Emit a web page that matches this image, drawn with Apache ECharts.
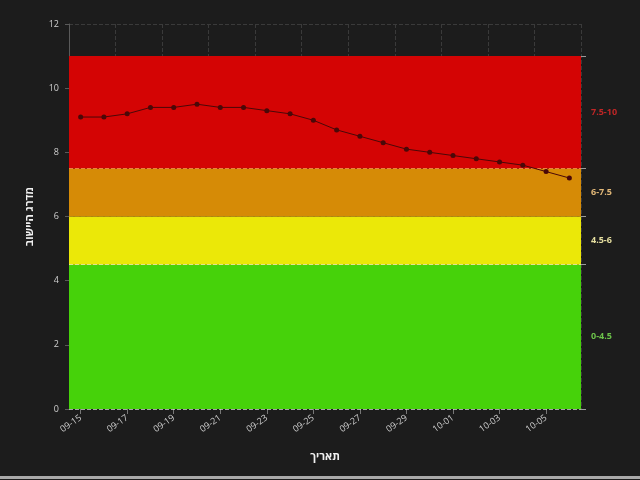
<!DOCTYPE html>
<html>
<head>
<meta charset="utf-8">
<script src="https://cdn.jsdelivr.net/npm/echarts@6/dist/echarts.min.js"></script>
<style>
  html, body { margin: 0; padding: 0; background: #1c1c1c; }
  #chart { width: 640px; height: 480px; }
  .bottom-bar {
    position: absolute;
    left: 0;
    top: 476px;
    width: 640px;
    height: 3px;
    background: #a9a9a9;
  }
</style>
</head>
<body>
<div id="chart"></div>
<div class="bottom-bar"></div>
<script>
// תאריכים (ציר X)
const dates = [
  '09-15', '09-16', '09-17', '09-18', '09-19', '09-20', '09-21', '09-22',
  '09-23', '09-24', '09-25', '09-26', '09-27', '09-28', '09-29', '09-30',
  '10-01', '10-02', '10-03', '10-04', '10-05', '10-06'
];

// מדרג היישוב לפי יום
const scores = [
  9.1, 9.1, 9.2, 9.4, 9.4, 9.5, 9.4, 9.4, 9.3, 9.2, 9.0,
  8.7, 8.5, 8.3, 8.1, 8.0, 7.9, 7.8, 7.7, 7.6, 7.4, 7.2
];

// רצועות צבע
const bandLabels = ['0-4.5', '4.5-6', '6-7.5', '7.5-10'];
const bandFrom = [0, 4.5, 6, 7.5];
const bandTo = [4.5, 6, 7.5, 11];
const bandColors = ['#46d20a', '#ebe808', '#d68b06', '#d40404'];
const bandTextColors = ['#6cc24a', '#e6dfa0', '#e2b878', '#c02626'];

const fontFamily = '"Open Sans", "Liberation Sans", "DejaVu Sans", sans-serif';

const chart = echarts.init(document.getElementById('chart'));

const markAreaData = bandLabels.map((name, i) => [
  {
    yAxis: bandFrom[i],
    itemStyle: { color: bandColors[i], opacity: 1 },
    label: {
      show: true,
      position: 'right',
      distance: 10,
      formatter: name,
      color: bandTextColors[i],
      fontSize: 9,
      fontWeight: 'bold',
      fontFamily: fontFamily
    }
  },
  { yAxis: bandTo[i] }
]);

const option = {
  backgroundColor: '#1c1c1c',
  animation: false,
  textStyle: { fontFamily: fontFamily },
  grid: {
    left: 69,
    right: 59,
    top: 24,
    bottom: 71
  },
  xAxis: {
    type: 'category',
    data: dates,
    boundaryGap: true,
    name: 'תאריך',
    nameLocation: 'middle',
    nameGap: 42,
    nameTextStyle: { color: '#f0f0f0', fontSize: 11, fontWeight: 'bold' },
    axisLine: { show: false },
    axisTick: { show: true, interval: 1, alignWithLabel: true, lineStyle: { color: '#777' } },
    axisLabel: {
      interval: 1,
      rotate: 35,
      color: '#cfcfcf',
      fontSize: 9,
      margin: 8
    },
    splitLine: {
      show: true,
      interval: 1,
      lineStyle: { color: '#3a3a3a', type: 'dashed' }
    }
  },
  yAxis: [
    {
      type: 'value',
      min: 0,
      max: 12,
      interval: 2,
      name: 'מדרג היישוב',
      nameLocation: 'middle',
      nameGap: 34,
      nameRotate: 90,
      nameTextStyle: { color: '#f0f0f0', fontSize: 11, fontWeight: 'bold' },
      axisLine: { show: true, lineStyle: { color: '#5a5a5a' } },
      axisTick: { show: true, length: 4, lineStyle: { color: '#5a5a5a' } },
      axisLabel: { color: '#cfcfcf', fontSize: 9, margin: 10 },
      splitLine: { show: true, lineStyle: { color: '#3a3a3a', type: 'dashed' } }
    },
    {
      type: 'value',
      position: 'right',
      min: 0,
      max: 12,
      axisLine: { show: false },
      axisTick: {
        show: true,
        length: 5,
        customValues: [0, 4.5, 6, 7.5, 11],
        lineStyle: { color: '#9a9a9a' }
      },
      axisLabel: { show: false },
      splitLine: { show: false }
    }
  ],
  series: [
    {
      name: 'מדרג',
      type: 'line',
      data: scores,
      symbol: 'circle',
      symbolSize: 5,
      lineStyle: { color: '#4a0808', width: 1 },
      itemStyle: { color: '#4a0808' },
      z: 5,
      markArea: {
        silent: true,
        data: markAreaData
      },
      markLine: {
        silent: true,
        symbol: 'none',
        label: { show: false },
        lineStyle: { color: 'rgba(255,255,255,0.55)', type: 'dashed', width: 1 },
        data: [{ yAxis: 0 }, { yAxis: 4.5 }, { yAxis: 7.5, lineStyle: { color: 'rgba(255,150,80,0.8)' } }]
      }
    }
  ]
};

chart.setOption(option);
</script>
</body>
</html>
